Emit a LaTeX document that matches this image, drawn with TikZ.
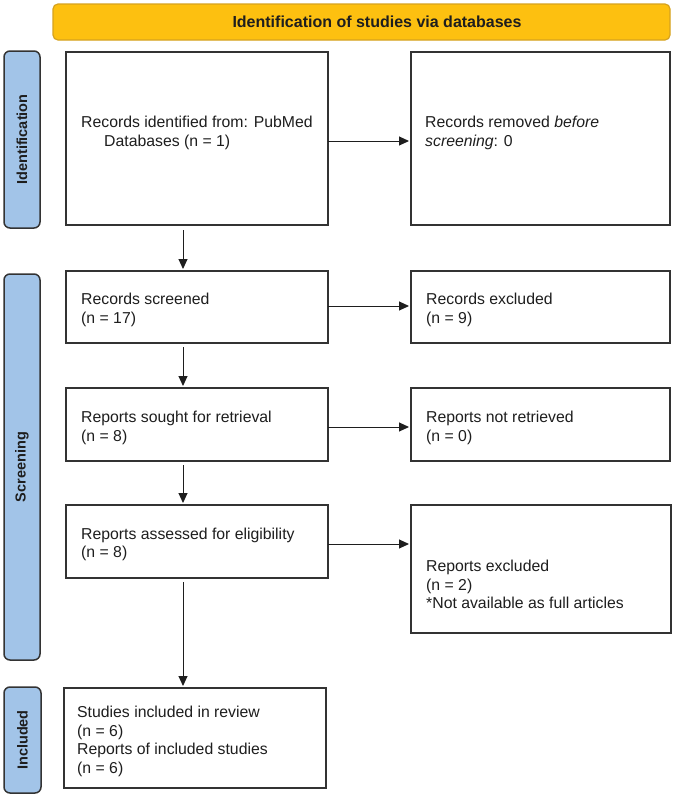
\documentclass[tikz,border=0pt]{standalone}
\usepackage{fontspec}
\setmainfont{Liberation Sans}
\usetikzlibrary{arrows.meta}
\definecolor{boxline}{HTML}{333333}
\definecolor{banfill}{HTML}{FDC010}
\definecolor{banline}{HTML}{D6A21E}
\definecolor{barfill}{HTML}{A2C4E8}
\definecolor{txt}{HTML}{1E1E1E}
\begin{document}
\begin{tikzpicture}[x=1pt,y=-1pt,
  box/.style={draw=boxline,line width=1.5pt,fill=white,anchor=north west,inner sep=0pt,outer sep=0pt},
  banner/.style={draw=banline,line width=1.2pt,fill=banfill,rounded corners=5pt,anchor=north west,inner sep=0pt,outer sep=0pt},
  sidebar/.style={draw=boxline,line width=1.5pt,fill=barfill,rounded corners=6pt,anchor=north west,inner sep=0pt,outer sep=0pt},
  bodytext/.style={anchor=north west,inner sep=0pt,align=left,text=txt,font=\fontsize{15.8}{18.5}\selectfont},
  sidetext/.style={rotate=90,inner sep=0pt,text=txt,font=\bfseries\fontsize{14.5}{17}\selectfont},
  arr/.style={draw=txt,line width=1pt,-{Triangle[length=10pt,width=9pt]},shorten >=2pt}
]
\useasboundingbox (0,0) rectangle (678,796);
\fill[white] (0,0) rectangle (678,796);

% banner
\node[banner,minimum width=617pt,minimum height=36pt] (ban) at (53,4) {};
\node[text=txt,inner sep=0pt,font=\bfseries\fontsize{16}{18}\selectfont] (bant) at (377,22) {Identification of studies via databases};

% side bars
\node[sidebar,minimum width=36pt,minimum height=177pt] (idbar) at (4,51) {};
\node[sidetext] (idt) at (idbar.center) {Identification};
\node[sidebar,minimum width=36pt,minimum height=386pt] (scbar) at (4,274) {};
\node[sidetext] (sct) at (scbar.center) {Screening};
\node[sidebar,minimum width=37pt,minimum height=106pt] (inbar) at (4,687) {};
\node[sidetext] (int) at (inbar.center) {Included};

% boxes
\node[box,minimum width=262pt,minimum height=173pt] (b1) at (66,52) {};
\node[box,minimum width=259pt,minimum height=173pt] (b2) at (411,52) {};
\node[box,minimum width=262pt,minimum height=72pt] (b3) at (66,271) {};
\node[box,minimum width=259pt,minimum height=72pt] (b3r) at (411,271) {};
\node[box,minimum width=262pt,minimum height=73pt] (b4) at (66,388) {};
\node[box,minimum width=259pt,minimum height=73pt] (b4r) at (411,388) {};
\node[box,minimum width=262pt,minimum height=73pt] (b5) at (66,505) {};
\node[box,minimum width=260pt,minimum height=128pt] (b5r) at (411,505) {};
\node[box,minimum width=262pt,minimum height=100pt] (b6) at (64,688) {};

% texts
\node[bodytext] (t1) at (81,114.5) {\strut Records identified from: PubMed\\\strut\hspace*{23pt}Databases (n = 1)};
\node[bodytext] (t2) at (425,114.5) {\strut Records removed \textit{before}\\\strut\textit{screening}: 0};
\node[bodytext] (t3) at (81,291.5) {\strut Records screened\\\strut(n = 17)};
\node[bodytext] (t3r) at (426,291.5) {\strut Records excluded\\\strut(n = 9)};
\node[bodytext] (t4) at (81,409.5) {\strut Reports sought for retrieval\\\strut(n = 8)};
\node[bodytext] (t4r) at (426,409.5) {\strut Reports not retrieved\\\strut(n = 0)};
\node[bodytext] (t5) at (81,526.3) {\strut Reports assessed for eligibility\\\strut(n = 8)};
\node[bodytext] (t5r) at (426,558.5) {\strut Reports excluded\\\strut(n = 2)\\\strut*Not available as full articles};
\node[bodytext] (t6) at (77,704.5) {\strut Studies included in review\\\strut(n = 6)\\\strut Reports of included studies\\\strut(n = 6)};

% guide coordinates
\coordinate (vx) at (183,0);
\coordinate (h1) at (0,141);
\coordinate (h2) at (0,306);
\coordinate (h3) at (0,427);
\coordinate (h4) at (0,544);

% vertical arrows
\draw[arr,shorten <=5pt] (b1.south -| vx) -- (b3.north -| vx);
\draw[arr,shorten <=4pt] (b3.south -| vx) -- (b4.north -| vx);
\draw[arr,shorten <=4pt] (b4.south -| vx) -- (b5.north -| vx);
\draw[arr,shorten <=4pt] (b5.south -| vx) -- (b6.north -| vx);

% horizontal arrows
\draw[arr] (b1.east |- h1) -- (b2.west |- h1);
\draw[arr] (b3.east |- h2) -- (b3r.west |- h2);
\draw[arr] (b4.east |- h3) -- (b4r.west |- h3);
\draw[arr] (b5.east |- h4) -- (b5r.west |- h4);
\end{tikzpicture}
\end{document}
